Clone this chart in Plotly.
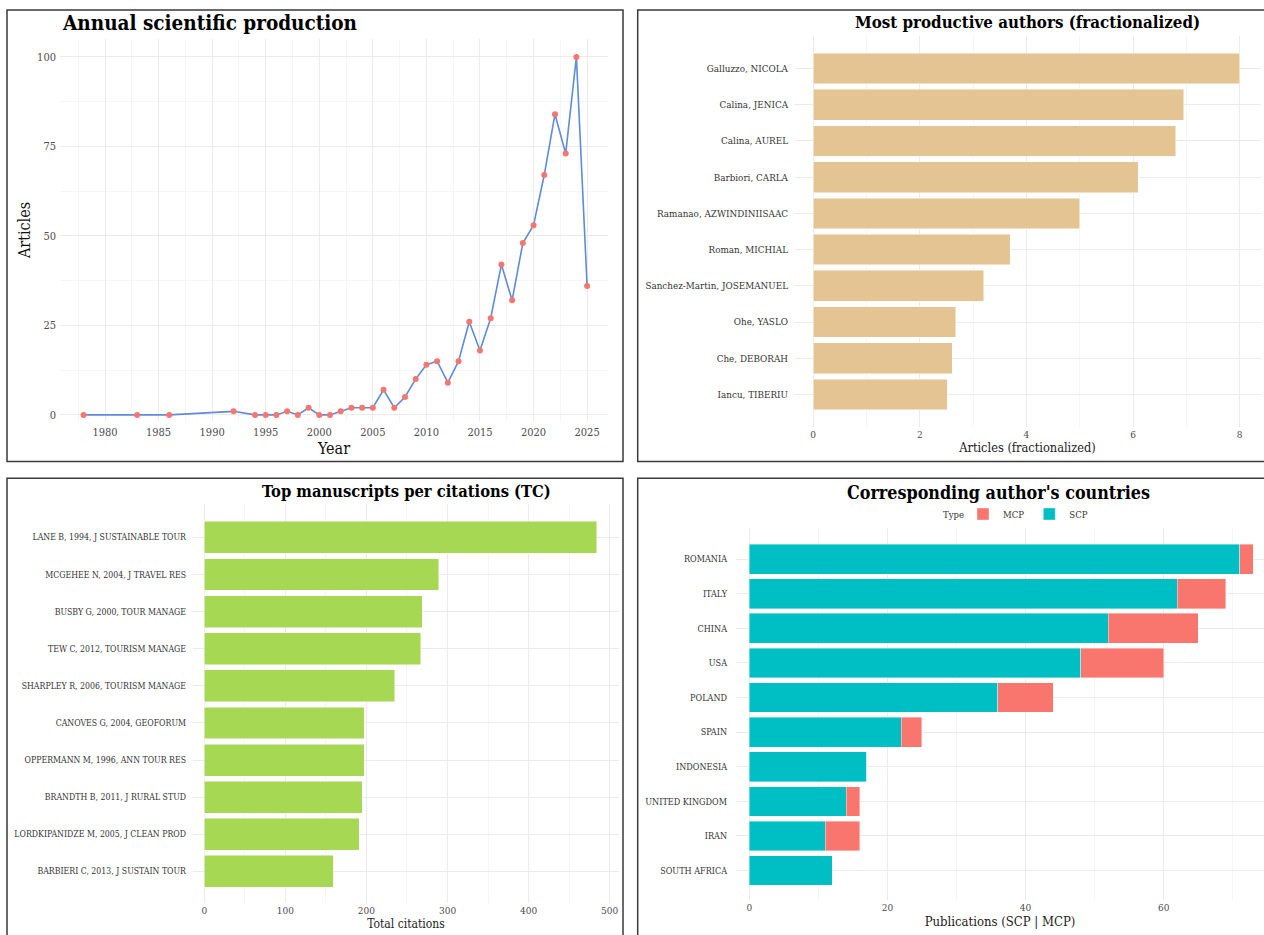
import plotly.graph_objects as go

# ---- data ---------------------------------------------------------------
years = [1978, 1983, 1986, 1992, 1994, 1995, 1996, 1997, 1998, 1999, 2000,
         2001, 2002, 2003, 2004, 2005, 2006, 2007, 2008, 2009, 2010, 2011,
         2012, 2013, 2014, 2015, 2016, 2017, 2018, 2019, 2020, 2021, 2022,
         2023, 2024, 2025]
articles = [0, 0, 0, 1, 0, 0, 0, 1, 0, 2, 0,
            0, 1, 2, 2, 2, 7, 2, 5, 10, 14, 15,
            9, 15, 26, 18, 27, 42, 32, 48, 53, 67, 84,
            73, 100, 36]

authors = ["Galluzzo, NICOLA", "Calina, JENICA", "Calina, AUREL", "Barbiori, CARLA",
           "Ramanao, AZWINDINIISAAC", "Roman, MICHIAL", "Sanchez-Martin, JOSEMANUEL",
           "Ohe, YASLO", "Che, DEBORAH", "Iancu, TIBERIU"]
author_frac = [8.0, 6.95, 6.8, 6.1, 5.0, 3.7, 3.2, 2.67, 2.61, 2.51]

docs = ["LANE B, 1994, J SUSTAINABLE TOUR", "MCGEHEE N, 2004, J TRAVEL RES",
        "BUSBY G, 2000, TOUR MANAGE", "TEW C, 2012, TOURISM MANAGE",
        "SHARPLEY R, 2006, TOURISM MANAGE", "CANOVES G, 2004, GEOFORUM",
        "OPPERMANN M, 1996, ANN TOUR RES", "BRANDTH B, 2011, J RURAL STUD",
        "LORDKIPANIDZE M, 2005, J CLEAN PROD", "BARBIERI C, 2013, J SUSTAIN TOUR"]
total_citations = [484, 289, 269, 267, 235, 197, 197, 195, 191, 159]

countries = ["ROMANIA", "ITALY", "CHINA", "USA", "POLAND", "SPAIN", "INDONESIA",
             "UNITED KINGDOM", "IRAN", "SOUTH AFRICA"]
scp = [71, 62, 52, 48, 36, 22, 17, 14, 11, 12]
mcp = [2, 7, 13, 12, 8, 3, 0, 2, 5, 0]

# ---- styling ------------------------------------------------------------
W, H = 1264, 935
SERIF = "DejaVu Serif Condensed, DejaVu Serif, serif"
GRID = "#EBEBEB"
MINOR = "#F5F5F5"
TICK = "#4D4D4D"


def px_x(a, b):
    return [a / W, min(b / W, 1.0)]


def px_y(top, bottom):
    return [1 - bottom / H, 1 - top / H]


def axis_common(**kw):
    d = dict(showline=False, zeroline=False, ticks="", showgrid=True,
             gridcolor=GRID, gridwidth=1,
             tickfont=dict(family=SERIF, size=10, color=TICK))
    d.update(kw)
    return d


fig = go.Figure()

# Panel 1: annual production
fig.add_trace(go.Scatter(
    x=years, y=articles, mode="lines+markers",
    line=dict(color="#5F8BD8", width=1.6),
    marker=dict(color="#F8766D", size=6),
    xaxis="x", yaxis="y", showlegend=False))

# Panel 2: most productive authors
fig.add_trace(go.Bar(
    x=author_frac, y=authors, orientation="h", width=0.85,
    marker=dict(color="#E5C494", line=dict(color="rgba(255,255,255,0.6)", width=0.8)),
    xaxis="x2", yaxis="y2", showlegend=False))

# Panel 3: most cited documents
fig.add_trace(go.Bar(
    x=total_citations, y=docs, orientation="h", width=0.86,
    marker=dict(color="#A6D854", line=dict(color="rgba(255,255,255,0.6)", width=0.8)),
    xaxis="x3", yaxis="y3", showlegend=False))

# Panel 4: corresponding author's countries (stacked SCP + MCP)
fig.add_trace(go.Bar(
    x=scp, y=countries, orientation="h", width=0.86, name="SCP",
    marker=dict(color="#00BFC4", line=dict(color="rgba(255,255,255,0.5)", width=0.8)),
    xaxis="x4", yaxis="y4", legendrank=2))
fig.add_trace(go.Bar(
    x=mcp, y=countries, orientation="h", width=0.86, name="MCP",
    marker=dict(color="#F8766D", line=dict(color="rgba(255,255,255,0.5)", width=0.8)),
    xaxis="x4", yaxis="y4", legendrank=1))

fig.update_layout(
    width=W, height=H, margin=dict(l=0, r=0, t=0, b=0),
    paper_bgcolor="white", plot_bgcolor="white",
    barmode="stack", bargap=0.14,
    font=dict(family=SERIF, color="#222"),
    # panel 1
    xaxis=axis_common(domain=px_x(60, 608), range=[1975.8, 2026.95],
                      tickvals=[1980, 1985, 1990, 1995, 2000, 2005, 2010, 2015, 2020, 2025],
                      minor=dict(showgrid=True, gridcolor=MINOR, dtick=5, tick0=1977.5),
                      tickfont=dict(family=SERIF, size=11, color=TICK),
                      ticklabelstandoff=3,
                      title=dict(text="Year", font=dict(family=SERIF, size=16, color="#111"), standoff=0),
                      anchor="y"),
    yaxis=axis_common(domain=px_y(39, 421), range=[-1.7, 105],
                      tickvals=[0, 25, 50, 75, 100],
                      minor=dict(showgrid=True, gridcolor=MINOR, dtick=25, tick0=12.5),
                      tickfont=dict(family=SERIF, size=11, color=TICK),
                      ticklabelstandoff=3,
                      title=dict(text="Articles", font=dict(family=SERIF, size=16, color="#111"), standoff=2),
                      anchor="x"),
    # panel 2
    xaxis2=axis_common(domain=px_x(794, 1261), range=[-0.36, 8.4],
                       tickvals=[0, 2, 4, 6, 8],
                       minor=dict(showgrid=True, gridcolor=MINOR, dtick=2, tick0=1),
                       title=dict(text="Articles (fractionalized)", font=dict(family=SERIF, size=12.7, color="#222"), standoff=4),
                       anchor="y2"),
    yaxis2=axis_common(domain=px_y(36, 427), range=[-0.9, 9.9],
                       categoryorder="array", categoryarray=authors[::-1],
                       tickfont=dict(family=SERIF, size=9.8, color="#333"),
                       ticklabelstandoff=5,
                       anchor="x2"),
    # panel 3
    xaxis3=axis_common(domain=px_x(193, 619), range=[-13.9, 511.5],
                       tickvals=[0, 100, 200, 300, 400, 500],
                       minor=dict(showgrid=True, gridcolor=MINOR, dtick=100, tick0=50),
                       title=dict(text="Total citations", font=dict(family=SERIF, size=12, color="#222"), standoff=4),
                       anchor="y3"),
    yaxis3=axis_common(domain=px_y(504, 903), range=[-0.85, 9.9],
                       categoryorder="array", categoryarray=docs[::-1],
                       tickfont=dict(family=SERIF, size=8.7, color="#333"),
                       ticklabelstandoff=6,
                       anchor="x3"),
    # panel 4
    xaxis4=axis_common(domain=px_x(736, 1264), range=[-1.93, 74.53],
                       tickvals=[0, 20, 40, 60],
                       minor=dict(showgrid=True, gridcolor=MINOR, dtick=20, tick0=10),
                       title=dict(text="Publications (SCP | MCP)", font=dict(family=SERIF, size=13, color="#222"), standoff=4),
                       anchor="y4"),
    yaxis4=axis_common(domain=px_y(528, 900), range=[-0.85, 9.9],
                       categoryorder="array", categoryarray=countries[::-1],
                       tickfont=dict(family=SERIF, size=9, color="#333"),
                       ticklabelstandoff=8,
                       anchor="x4"),
    legend=dict(orientation="h", x=963 / W, xanchor="left", y=1 - 514 / H, yanchor="middle",
                font=dict(family=SERIF, size=9.5, color="#333"),
                traceorder="normal",
                itemwidth=30, tracegroupgap=0, bgcolor="rgba(0,0,0,0)"),
)

# legend heading
fig.add_annotation(text="Type", x=966 / W, y=1 - 514 / H, xref="paper", yref="paper",
                   xanchor="right", yanchor="middle", showarrow=False,
                   font=dict(family=SERIF, size=9.5, color="#333"))

# panel titles
titles = [
    ("Annual scientific production", 60, 23, "left", 20.5),
    ("Most productive authors (fractionalized)", 1027, 22, "center", 16.8),
    ("Top manuscripts per citations (TC)", 406, 491, "center", 16.4),
    ("Corresponding author's countries", 998, 492, "center", 17.8),
]
for text, x, y, anchor, size in titles:
    fig.add_annotation(text="<b>" + text + "</b>", x=x / W, y=1 - y / H,
                       xref="paper", yref="paper", xanchor=anchor, yanchor="middle",
                       showarrow=False, font=dict(family=SERIF, size=size, color="#000"))

# panel frames
frames = [(7, 10, 623, 461.5), (637.7, 10, 1275, 461.5),
          (7, 478.3, 623, 950), (637.7, 478.3, 1275, 950)]
for x0, y0, x1, y1 in frames:
    fig.add_shape(type="rect", xref="paper", yref="paper",
                  x0=x0 / W, x1=x1 / W, y0=1 - y1 / H, y1=1 - y0 / H,
                  line=dict(color="#3A3A3A", width=1.5), fillcolor="rgba(0,0,0,0)", layer="above")

fig.write_html("out.html")
